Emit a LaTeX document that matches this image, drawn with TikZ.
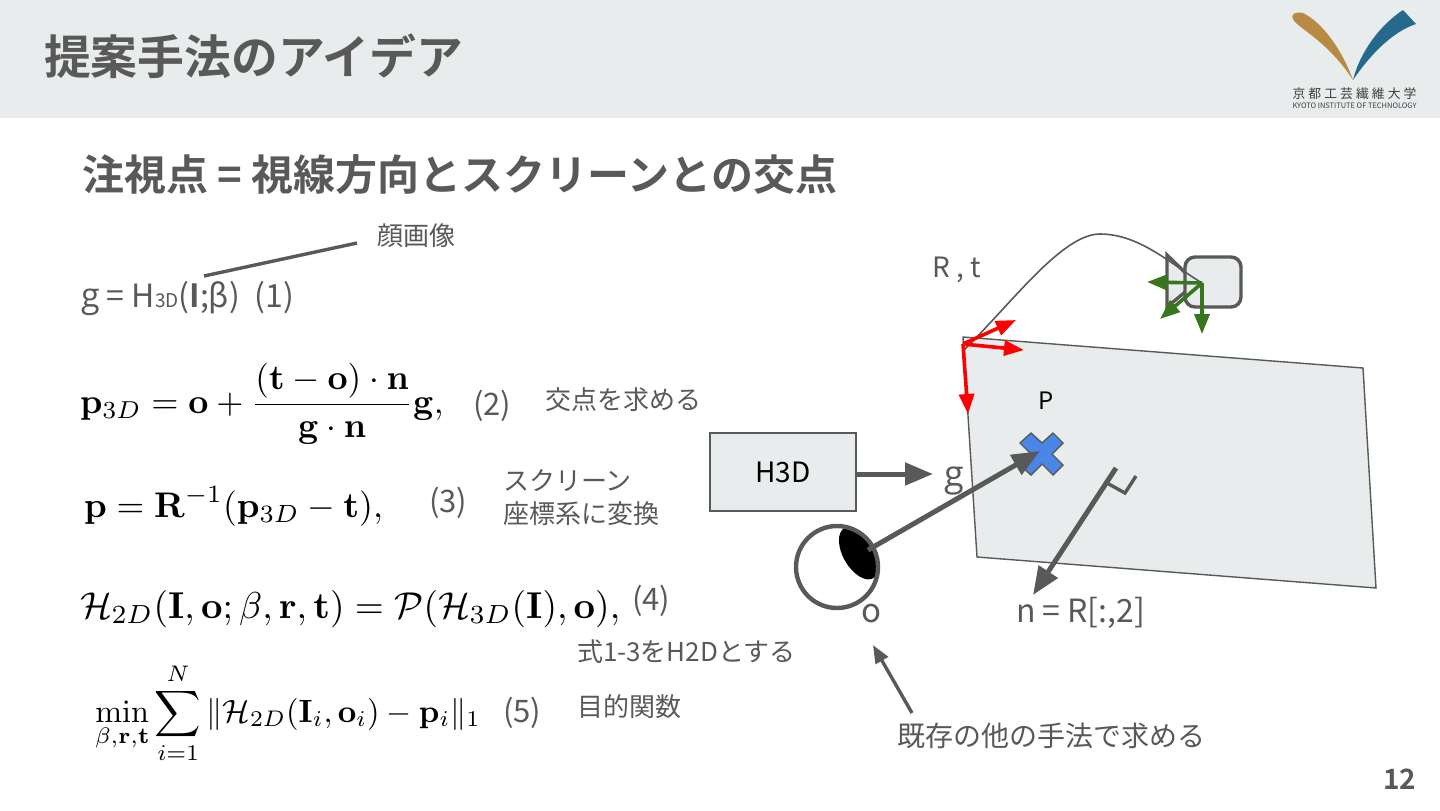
\documentclass[tikz,border=0pt]{standalone}
\usepackage{amsmath,amssymb}
\usepackage[no-math]{fontspec}
\setmainfont{Noto Sans CJK JP}[BoldFont={Noto Sans CJK JP Bold}]
\newfontfamily\gfont{Open Sans}
\usetikzlibrary{arrows.meta}
\definecolor{ink}{HTML}{595959}
\definecolor{pale}{HTML}{E8ECEC}
\definecolor{bluex}{HTML}{4A86E8}
\definecolor{redax}{HTML}{FF0000}
\definecolor{greenax}{HTML}{38761D}
\definecolor{logob}{HTML}{B98A44}
\definecolor{logoc}{HTML}{256A8C}
\newcommand{\fs}[1]{\fontsize{#1}{#1}\selectfont}
\tikzset{
  x=0.5pt,y=-0.5pt,
  txt/.style={inner sep=0pt,outer sep=0pt,text=ink,anchor=base west},
  eq/.style={inner sep=0pt,outer sep=0pt,text=black,anchor=base west},
  bigarrow/.style={draw=ink,line width=2.5pt,-{Triangle[length=14pt,width=11pt]}},
  midarrow/.style={draw=ink,line width=1.7pt,-{Triangle[length=9pt,width=7pt]}},
  redarrow/.style={draw=redax,line width=1.8pt,-{Triangle[length=10pt,width=7.5pt]}},
  greenarrow/.style={draw=greenax,line width=1.8pt,-{Triangle[length=10pt,width=7.5pt]}},
}
\begin{document}
\begin{tikzpicture}
\useasboundingbox (0,0) rectangle (1440,810);
\fill[white] (0,0) rectangle (1440,810);
\fill[pale] (0,0) rectangle (1440,118);
% logo
\fill[logob] (1353,80) .. controls (1342,50) and (1323,23) .. (1303,13) .. controls (1295,11) and (1290,15) .. (1293,19) .. controls (1297,28) and (1327,40) .. (1353,80) -- cycle;
\fill[logoc] (1353,80) .. controls (1360,52) and (1380,25) .. (1403,10) -- (1416,24) .. controls (1392,32) and (1370,55) .. (1353,80) -- cycle;
\node[inner sep=0pt,text=ink!70!black,anchor=base] (logoj) at (1354.5,98) {\fs{6.4}\makebox[62pt][s]{京\hfil 都\hfil 工\hfil 芸\hfil 繊\hfil 維\hfil 大\hfil 学}};
\node[inner sep=0pt,text=ink!70!black,anchor=base] (logoe) at (1354.5,108) {\resizebox{62pt}{!}{\fs{5}KYOTO INSTITUTE OF TECHNOLOGY}};
% titles
\node[txt] (title) at (44,74) {\fs{23.4}\bfseries 提案手法のアイデア};
\node[txt] (sub) at (82,190) {\fs{21}\bfseries 注視点 = 視線方向とスクリーンとの交点};
\node[txt,text=ink] (pageno) at (1383,789) {\fs{14}\bfseries 12};
% left equations
\node[txt] (e1) at (81,307) {\fs{16}{\gfont\fs{17}g} = H{\fs{9.5}3D}({\bfseries I};β)\hspace{7.5pt}(1)};
\node[txt] (face) at (377,245) {\fs{13}顔画像};
\coordinate (faceL) at (357,243);
\coordinate (faceR) at (204,276);
\draw[ink,line width=1.7pt] (faceL) -- (faceR);
\node[eq,scale=1.75] (e2) at (80,413) {$\displaystyle \mathbf{p}_{3D}=\mathbf{o}+\frac{(\mathbf{t}-\mathbf{o})\cdot\mathbf{n}}{\mathbf{g}\cdot\mathbf{n}}\mathbf{g},$};
\node[txt] (n2) at (473,415) {\fs{15.5}(2)};
\node[txt] (t2) at (545,409) {\fs{13}交点を求める};
\node[eq,scale=1.78] (e3) at (84,517) {$\displaystyle \mathbf{p}=\mathbf{R}^{-1}(\mathbf{p}_{3D}-\mathbf{t}),$};
\node[txt] (n3) at (429,512) {\fs{15.5}(3)};
\node[txt] (t3a) at (503,490) {\fs{13}スクリーン};
\node[txt] (t3b) at (503,523) {\fs{13}座標系に変換};
\node[eq,scale=1.87] (e4) at (80,618) {$\displaystyle \mathcal{H}_{2D}(\mathbf{I},\mathbf{o};\beta,\mathbf{r},\mathbf{t})=\mathcal{P}(\mathcal{H}_{3D}(\mathbf{I}),\mathbf{o}),$};
\node[txt] (n4) at (632,610) {\fs{15.5}(4)};
\node[txt] (t4) at (577,661) {\fs{13}式1-3をH2Dとする};
\node[eq,scale=1.61] (e5) at (95,722) {$\displaystyle \min_{\beta,\mathbf{r},\mathbf{t}}\sum_{i=1}^{N}\|\mathcal{H}_{2D}(\mathbf{I}_i,\mathbf{o}_i)-\mathbf{p}_i\|_1$};
\node[txt] (n5) at (503,722) {\fs{15.5}(5)};
\node[txt] (t5) at (577,716) {\fs{13}目的関数};
% screen
\draw[ink,fill=pale,line width=0.7pt] (963,337) -- (1363,368) -- (1376,588) -- (977,557) -- cycle;
% camera
\draw[ink,fill=pale,line width=1.7pt] (1167,255) -- (1196,283) -- (1167,307) -- cycle;
\node[draw=ink,fill=pale,line width=1.7pt,rounded corners=5pt,minimum width=28pt,minimum height=25pt,inner sep=0pt] (cam) at (1213,282) {};
\coordinate (camC) at (1202,283);
\coordinate (scrO) at (963,351);
\draw[ink,line width=0.8pt] (scrO) .. controls (1012,303) and (1062,234) .. (1100,234) .. controls (1140,234) and (1172,265) .. (camC);
\coordinate (gL) at (1147,282);
\coordinate (gD) at (1160,319);
\coordinate (gB) at (1202,334);
\draw[greenarrow] (camC) -- (gL);
\draw[greenarrow] (camC) -- (gD);
\draw[greenarrow] (camC) -- (gB);
\coordinate (rO) at (963,344);
\coordinate (rA) at (1016,320);
\coordinate (rB) at (1024,350);
\coordinate (rC) at (968,414);
\draw[redarrow] (rO) -- (rA);
\draw[redarrow] (rO) -- (rB);
\draw[redarrow] (rO) -- (rC);
\node[txt] (rt) at (932,277) {\fs{14}R , t};
\node[txt,text=black] (p) at (1038,409) {\fs{12}P};
% cross
\draw[draw=ink,fill=bluex,line width=0.7pt] (1042,443) -- (1053,433) -- (1063,443) -- (1052,454) -- (1063,465) -- (1053,475) -- (1042,464) -- (1031,475) -- (1020,465) -- (1031,454) -- (1020,443) -- (1031,433) -- cycle;
\coordinate (crossC) at (1040,451);
% H3D
\node[draw=ink,fill=pale,line width=0.8pt,minimum width=73pt,minimum height=39pt,inner sep=0pt,text=black] (h3d) at (783,472) {\raisebox{-2pt}{\fs{14}H3D}};
\node[txt] (g) at (944,486) {\gfont\fs{18}g};
\coordinate (gTip) at (933,474);
\draw[bigarrow] (h3d.east |- gTip) -- (gTip);
% eye
\begin{scope}
\clip (837,567) circle[radius=41];
\fill[black,shift={(859,553)},rotate=-60] (0,0) circle[x radius=29,y radius=16];
\end{scope}
\draw[ink,line width=2.2pt] (837,567) circle[radius=41];
\coordinate (eyeP) at (868,550);
\draw[bigarrow] (eyeP) -- (crossC);
\node[txt] (o) at (861,622) {\fs{16.5}o};
% normal
\coordinate (nA) at (1116,468);
\coordinate (nB) at (1033,595);
\coordinate (pA) at (1107,483);
\coordinate (pB) at (1125,493);
\coordinate (pC) at (1136,476);
\draw[bigarrow] (nA) -- (nB);
\draw[ink,line width=1.7pt] (pA) -- (pB) -- (pC);
\node[txt] (nt) at (1016,622) {\fs{16}n = R[:,2]};
% bottom note
\node[txt] (note) at (897,746) {\fs{14}既存の他の手法で求める};
\coordinate (noteA) at (912,713);
\coordinate (noteB) at (873,645);
\draw[midarrow] (noteA) -- (noteB);
\end{tikzpicture}
\end{document}
